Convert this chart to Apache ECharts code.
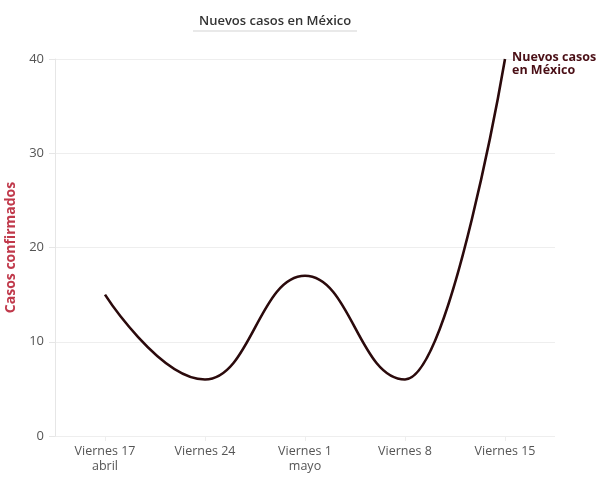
<!DOCTYPE html>
<html><head><meta charset="utf-8">
<script src="https://cdn.jsdelivr.net/npm/echarts@6/dist/echarts.min.js"></script>
<style>html,body{margin:0;padding:0;background:#fff}#c{width:600px;height:483px}</style>
</head><body><div id="c"></div>
<script>
const categories = ['Viernes 17\nabril', 'Viernes 24', 'Viernes 1\nmayo', 'Viernes 8', 'Viernes 15'];
const casos = [15, 6, 17, 6, 40];
const yTicks = [0, 10, 20, 30, 40];
const seriesName = 'Nuevos casos\nen México';
const titleText = 'Nuevos casos en México';
const yName = 'Casos confirmados';

const chart = echarts.init(document.getElementById('c'));
chart.setOption({
  backgroundColor: '#fff',
  animation: false,
  textStyle: { fontFamily: 'Open Sans' },
  title: {
    text: titleText, left: 194, top: 10,
    textStyle: { fontSize: 13, fontWeight: 600, color: '#333', fontFamily: 'Open Sans' }
  },
  graphic: [{
    type: 'line', shape: { x1: 193, y1: 31, x2: 357, y2: 31 },
    style: { stroke: '#e2e2e2', lineWidth: 1.5 }
  }],
  grid: { left: 55, right: 45, top: 59, bottom: 47, outerBoundsMode: 'none', containLabel: false },
  xAxis: {
    type: 'category', data: categories, boundaryGap: true,
    axisLine: { show: false },
    axisTick: { show: true, alignWithLabel: true, length: 5, lineStyle: { color: '#eeeeee' } },
    axisLabel: { color: '#555', fontSize: 12.5, lineHeight: 15, margin: 8, fontFamily: 'Open Sans' },
    splitLine: { show: false }
  },
  yAxis: {
    type: 'value', min: yTicks[0], max: yTicks[yTicks.length - 1], interval: 10,
    name: yName, nameLocation: 'middle', nameGap: 33, nameRotate: 90,
    nameTextStyle: { color: '#c0394b', fontSize: 14, fontWeight: 'bold', fontFamily: 'Open Sans' },
    axisLine: { show: true, lineStyle: { color: '#e6e6e6' } },
    axisTick: { show: true, length: 6, lineStyle: { color: '#e6e6e6' } },
    axisLabel: { color: '#555', fontSize: 13, margin: 11, fontFamily: 'Open Sans' },
    splitLine: { show: true, lineStyle: { color: '#eeeeee' } }
  },
  series: [{
    type: 'line', name: seriesName, data: casos,
    smooth: 0.45, smoothMonotone: 'x',
    symbol: 'none',
    lineStyle: { color: '#2b0a0c', width: 2.6 },
    endLabel: {
      show: true, formatter: seriesName, color: '#4a0f16',
      fontSize: 12.5, fontWeight: 'bold', lineHeight: 13, fontFamily: 'Open Sans',
      offset: [-1, 5]
    }
  }]
});
</script></body></html>
